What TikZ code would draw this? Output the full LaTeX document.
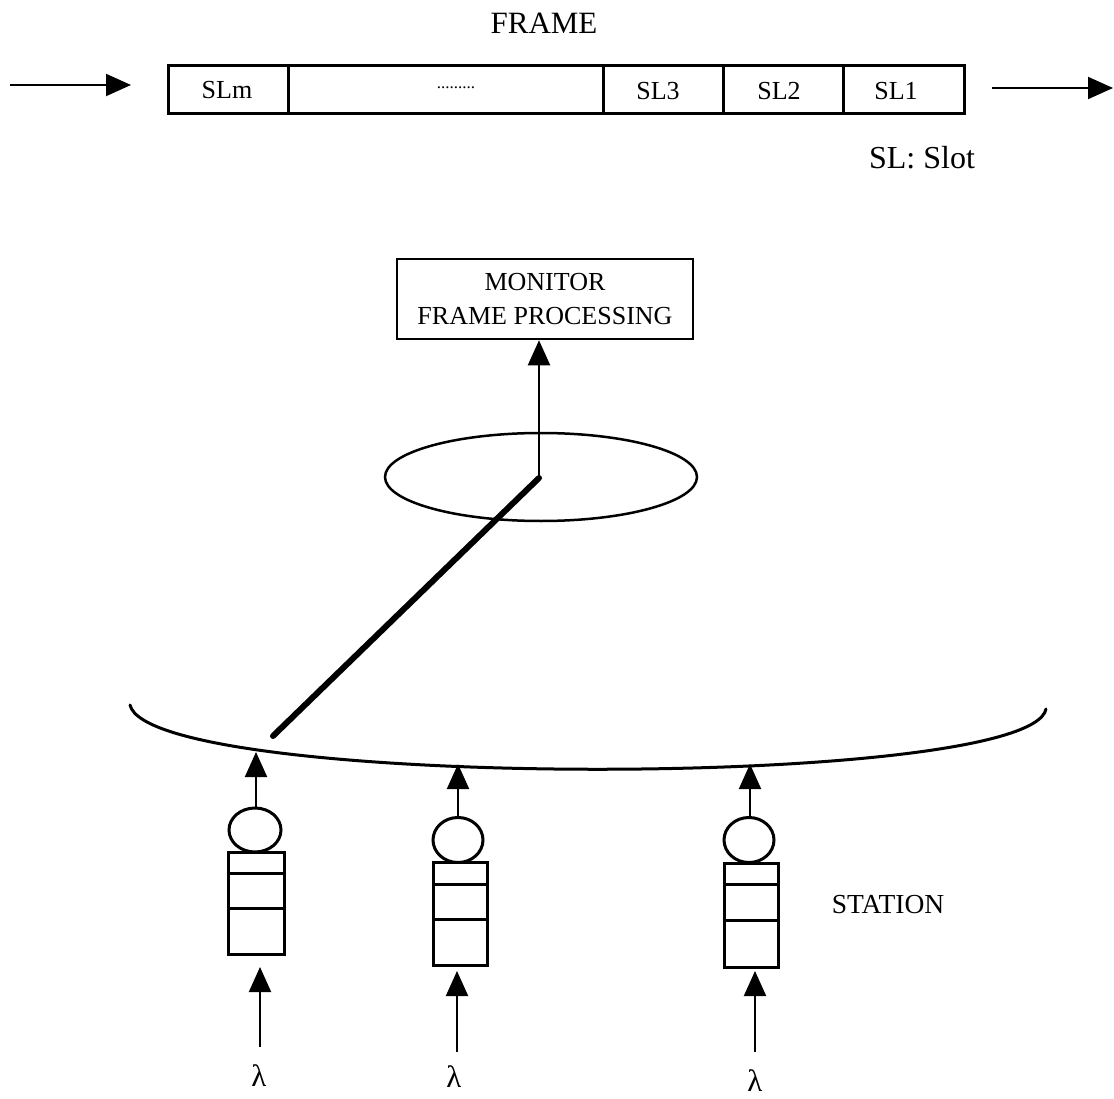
\documentclass[tikz,border=0pt]{standalone}
\usepackage{fontspec}
\setmainfont{Liberation Serif}
\usetikzlibrary{arrows.meta,shapes.geometric}
\tikzset{
  thinline/.style={line width=2.5pt},
  arr/.style={line width=2pt,-{Triangle[length=25pt,width=22pt]}},
  cell/.style={draw,line width=3pt,rectangle,inner sep=0pt,minimum height=48pt},
  lbl/.style={inner sep=0pt,font=\fontsize{26}{34}\selectfont},
  biglbl/.style={inner sep=0pt,font=\fontsize{31}{36}\selectfont},
  lamlbl/.style={inner sep=0pt,font=\fontsize{31}{34}\selectfont},
  queuebox/.style={draw,line width=3pt,rectangle,inner sep=0pt},
  server/.style={draw,line width=3pt,ellipse,inner sep=0pt},
}
\begin{document}
\begin{tikzpicture}[x=1pt,y=-1pt]
\useasboundingbox (0,0) rectangle (1114,1099);
% frame
\node[biglbl] (frametitle) at (544,23) {FRAME};
\node[cell,minimum width=120pt] (slm) at (228,90) {};
\node[cell,minimum width=315pt] (sldots) at (445.5,90) {};
\node[cell,minimum width=120pt] (sl3) at (663,90) {};
\node[cell,minimum width=120pt] (sl2) at (783,90) {};
\node[cell,minimum width=121pt] (sl1) at (903.5,90) {};
\node[lbl] (tslm) at (227,90) {SLm};
\node[inner sep=0pt,font=\fontsize{17}{20}\selectfont] (tdots) at (456,88) {.........};
\node[lbl] (tsl3) at (658,91) {SL3};
\node[lbl] (tsl2) at (779,91) {SL2};
\node[lbl] (tsl1) at (896,91) {SL1};
\node[inner sep=0pt,font=\fontsize{32}{36}\selectfont] (legend) at (922,158) {SL: Slot};
\coordinate (inA) at (10,85);
\coordinate (inB) at (131,85);
\coordinate (outA) at (992,88);
\coordinate (outB) at (1113,88);
\draw[arr] (inA) -- (inB);
\draw[arr] (outA) -- (outB);
% monitor
\node[draw,line width=2.5pt,rectangle,minimum width=296pt,minimum height=80pt,inner sep=0pt,align=center,font=\fontsize{26}{34}\selectfont] (monitor) at (545,299) {MONITOR\\FRAME PROCESSING};
\node[draw,thinline,ellipse,minimum width=312pt,minimum height=88pt,inner sep=0pt] (ring) at (541,477) {};
\coordinate (hub) at (539,478);
\draw[arr] (hub) -- (hub |- monitor.south);
% bus arc
\coordinate (arcL) at (130,705);
\coordinate (arcR) at (1046,709);
\draw[line width=3pt,line cap=round] (arcL) .. controls (150,790) and (1030,790) .. (arcR);
\coordinate (tap) at (273,736);
\draw[line width=6pt,line cap=round] (hub) -- (tap);
% stations
\node[server,minimum width=52pt,minimum height=44pt] (c1) at (255,830) {};
\node[server,minimum width=50pt,minimum height=45pt] (c2) at (458,840) {};
\node[server,minimum width=50pt,minimum height=45pt] (c3) at (749,840) {};
\node[queuebox,minimum width=56pt,minimum height=102pt] (q1) at (256,903) {};
\node[queuebox,minimum width=54pt,minimum height=103pt] (q2) at (460,913.5) {};
\node[queuebox,minimum width=54pt,minimum height=104pt] (q3) at (751,915) {};
\draw[line width=3pt] (q1.west |- 0,873) -- (q1.east |- 0,873);
\draw[line width=3pt] (q1.west |- 0,908) -- (q1.east |- 0,908);
\draw[line width=3pt] (q2.west |- 0,884) -- (q2.east |- 0,884);
\draw[line width=3pt] (q2.west |- 0,919) -- (q2.east |- 0,919);
\draw[line width=3pt] (q3.west |- 0,884) -- (q3.east |- 0,884);
\draw[line width=3pt] (q3.west |- 0,920) -- (q3.east |- 0,920);
\coordinate (t1) at (256,752);
\coordinate (t2) at (458,764);
\coordinate (t3) at (750,764);
\draw[arr] (c1.north -| t1) -- (t1);
\draw[arr] (c2.north) -- (t2);
\draw[arr] (c3.north -| t3) -- (t3);
\coordinate (b1) at (260,1047);
\coordinate (e1) at (260,967);
\coordinate (b2) at (457,1052);
\coordinate (e2) at (457,971);
\coordinate (b3) at (755,1052);
\coordinate (e3) at (755,971);
\draw[arr] (b1) -- (e1);
\draw[arr] (b2) -- (e2);
\draw[arr] (b3) -- (e3);
\node[lamlbl] (lam1) at (259,1076) {λ};
\node[lamlbl] (lam2) at (454,1077) {λ};
\node[lamlbl] (lam3) at (755,1081) {λ};
\node[inner sep=0pt,font=\fontsize{27.5}{34}\selectfont] (station) at (888,905) {STATION};
\end{tikzpicture}
\end{document}
